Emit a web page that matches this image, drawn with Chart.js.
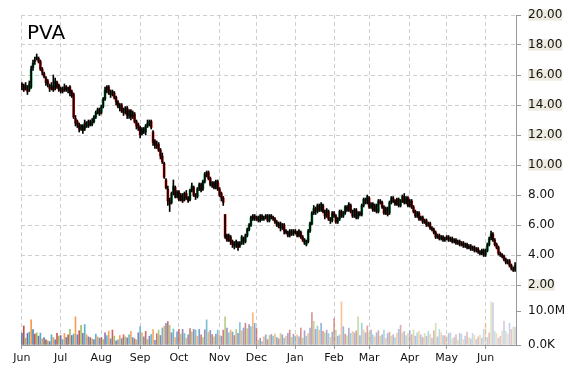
<!DOCTYPE html>
<html>
<head>
<meta charset="utf-8">
<script src="https://cdn.jsdelivr.net/npm/chart.js@4.4.1/dist/chart.umd.min.js"></script>
<style>
html, body { margin: 0; padding: 0; background: #fff; }
#wrap { position: relative; width: 570px; height: 370px; }
#title { position: absolute; left: 27px; top: 22px; font: 20px/20px "DejaVu Sans", sans-serif; color: #000; }
</style>
</head>
<body>
<div id="wrap">
  <canvas id="chart" width="570" height="370"></canvas>
  <div id="title">PVA</div>
</div>
<script>
// trading days per month, Jun .. Jun
var months = ['Jun', 'Jul', 'Aug', 'Sep', 'Oct', 'Nov', 'Dec', 'Jan', 'Feb', 'Mar', 'Apr', 'May', 'Jun'];
var daysPerMonth = [21, 22, 21, 21, 22, 20, 21, 21, 19, 22, 20, 21, 17];

var priceTicks = [2, 4, 6, 8, 10, 12, 14, 16, 18, 20];
var volumeTicks = [0, 10000000];

var opens = [
  15.4,15.3,15.1,15.2,15.0,15.2,16.5,16.9,17.1,17.1,
  16.9,16.4,16.1,15.8,15.6,15.3,15.2,15.2,15.1,15.5,
  15.3,15.0,15.1,15.0,15.2,15.0,15.2,14.9,14.7,13.1,
  12.9,12.7,12.4,12.6,12.4,12.8,12.6,12.9,12.7,12.9,
  13.2,13.5,13.7,13.5,13.9,14.4,15.0,15.2,14.9,14.7,
  14.8,14.5,14.2,13.8,14.0,13.7,13.5,13.8,13.3,13.6,
  13.2,13.4,12.9,12.7,12.5,12.1,12.4,12.2,12.6,12.7,
  12.9,12.2,11.6,11.2,11.4,11.0,10.6,10.1,9.0,8.4,
  7.7,7.5,8.1,8.5,7.9,8.2,7.7,8.0,7.7,8.1,
  7.8,7.7,8.3,8.5,8.0,7.9,8.4,8.7,8.4,8.9,
  9.3,9.5,9.1,8.6,8.8,8.5,8.9,8.4,8.1,7.8,
  6.7,5.3,5.0,5.2,4.9,4.8,4.6,4.8,4.6,4.8,
  5.1,4.9,5.3,5.7,6.0,6.4,6.6,6.4,6.5,6.3,
  6.6,6.4,6.5,6.6,6.3,6.6,6.5,6.4,6.2,5.9,
  6.1,5.8,6.0,5.6,5.5,5.3,5.6,5.4,5.6,5.5,
  5.3,5.5,5.2,5.0,4.7,4.9,5.6,6.1,6.8,7.1,
  6.9,7.3,7.0,7.3,6.9,6.6,6.9,6.4,6.3,6.8,
  6.6,6.2,6.4,6.9,6.6,6.8,7.2,7.0,7.3,6.9,
  6.6,7.0,6.5,6.8,6.7,7.3,7.7,7.5,7.8,7.2,
  7.4,7.0,7.3,6.9,7.6,7.5,7.2,6.8,7.1,6.8,
  7.5,7.8,7.6,7.4,7.7,7.3,7.6,7.9,7.5,7.8,
  7.3,7.6,7.2,6.9,6.6,6.8,6.4,6.5,6.2,6.3,
  6.0,6.1,5.8,5.7,5.5,5.2,5.3,5.1,5.2,5.0,
  5.1,5.2,5.0,5.1,4.9,5.0,4.8,4.9,4.7,4.8,
  4.6,4.7,4.5,4.6,4.4,4.5,4.3,4.4,4.2,4.1,
  4.3,4.0,4.3,4.7,5.1,5.4,5.0,4.7,4.5,4.1,
  4.0,3.9,3.7,3.5,3.6,3.3,3.1,3.0
];
var highs = [
  15.5,15.4,15.5,15.3,15.6,16.6,17.0,17.2,17.4,17.2,
  17.0,16.5,16.2,15.9,15.7,15.4,15.5,16.0,15.8,15.6,
  15.4,15.2,15.2,15.4,15.3,15.2,15.3,15.0,14.8,13.3,
  13.0,12.8,12.7,12.7,13.0,12.9,13.0,13.0,13.1,13.3,
  13.6,13.8,13.8,14.0,14.5,15.2,15.3,15.3,15.0,15.0,
  14.9,14.6,14.3,14.1,14.1,13.8,13.9,13.9,13.7,13.7,
  13.6,13.5,13.0,12.8,12.6,12.5,12.5,12.7,13.0,13.0,
  13.0,12.3,11.7,11.6,11.5,11.1,10.8,10.2,9.1,8.6,
  7.8,8.2,9.0,8.6,8.3,8.3,8.1,8.1,8.2,8.3,
  7.9,8.4,8.8,8.6,8.1,8.5,8.8,8.8,9.0,9.5,
  9.6,9.6,9.2,8.9,8.9,9.0,9.0,8.5,8.2,7.9,
  6.7,5.4,5.4,5.3,5.0,4.9,5.0,4.9,4.9,5.3,
  5.2,5.4,5.8,6.1,6.6,6.7,6.7,6.6,6.6,6.7,
  6.7,6.6,6.7,6.7,6.7,6.7,6.6,6.5,6.3,6.2,
  6.2,6.1,6.1,5.7,5.6,5.7,5.7,5.7,5.7,5.6,
  5.7,5.6,5.3,5.1,5.0,5.7,6.2,6.9,7.3,7.2,
  7.4,7.4,7.5,7.4,7.0,7.1,7.0,6.5,6.9,6.9,
  6.7,6.5,7.0,7.0,6.9,7.3,7.3,7.5,7.4,7.0,
  7.1,7.1,6.9,6.9,7.4,7.8,7.8,8.0,7.9,7.5,
  7.5,7.4,7.4,7.7,7.7,7.6,7.3,7.2,7.2,7.6,
  7.9,7.9,7.7,7.8,7.8,7.7,8.0,8.1,7.9,7.9,
  7.7,7.7,7.3,7.0,6.9,6.9,6.6,6.6,6.4,6.4,
  6.2,6.2,5.9,5.8,5.6,5.4,5.4,5.3,5.3,5.2,
  5.3,5.3,5.2,5.2,5.1,5.1,5.0,5.0,4.9,4.9,
  4.8,4.8,4.7,4.7,4.6,4.6,4.5,4.5,4.3,4.4,
  4.4,4.4,4.8,5.2,5.6,5.5,5.1,4.8,4.6,4.2,
  4.1,4.0,3.8,3.7,3.7,3.4,3.2,3.5
];
var lows = [
  15.0,14.9,15.0,14.7,14.9,15.1,16.3,16.7,17.0,16.8,
  16.3,16.0,15.8,15.3,15.2,14.9,15.0,14.9,15.0,15.1,
  14.9,14.8,14.8,14.9,14.9,14.8,14.6,14.5,13.1,12.6,
  12.5,12.2,12.3,12.1,12.3,12.5,12.5,12.6,12.6,12.8,
  13.1,13.4,13.3,13.4,13.8,14.3,14.8,14.7,14.5,14.6,
  14.4,14.0,13.8,13.6,13.5,13.3,13.4,13.1,13.1,13.0,
  13.1,12.8,12.4,12.3,11.8,12.0,12.1,12.0,12.5,12.6,
  12.4,11.3,11.1,11.1,10.9,10.4,10.1,9.1,8.4,7.3,
  6.9,7.4,8.0,7.8,7.8,7.6,7.6,7.5,7.6,7.7,
  7.5,7.6,8.2,7.9,7.7,7.8,8.3,8.2,8.3,8.8,
  9.2,9.0,8.6,8.5,8.4,8.4,8.3,7.9,7.6,7.3,
  5.1,4.9,4.9,4.7,4.5,4.4,4.5,4.3,4.5,4.7,
  4.7,4.8,5.2,5.6,5.9,6.3,6.3,6.3,6.2,6.2,
  6.3,6.3,6.4,6.2,6.2,6.4,6.3,6.1,5.9,5.8,
  5.6,5.7,5.4,5.4,5.2,5.2,5.3,5.3,5.4,5.2,
  5.2,5.1,4.9,4.7,4.6,4.8,5.5,6.0,6.7,6.7,
  6.8,6.9,6.9,6.8,6.4,6.5,6.3,6.1,6.2,6.5,
  6.1,6.1,6.3,6.5,6.5,6.7,6.9,6.9,6.8,6.5,
  6.5,6.4,6.4,6.6,6.6,7.2,7.4,7.4,7.1,7.1,
  6.9,6.9,6.8,6.8,7.4,7.1,6.7,6.7,6.6,6.7,
  7.4,7.5,7.3,7.3,7.2,7.2,7.5,7.4,7.4,7.2,
  7.2,7.1,6.8,6.5,6.5,6.3,6.3,6.1,6.1,5.9,
  5.9,5.7,5.6,5.4,5.1,5.1,5.0,5.0,4.9,4.9,
  5.0,4.9,4.9,4.8,4.8,4.7,4.7,4.6,4.6,4.5,
  4.5,4.4,4.4,4.3,4.3,4.2,4.2,4.1,4.0,4.0,
  3.9,3.9,4.2,4.6,5.0,4.9,4.6,4.4,4.0,3.9,
  3.8,3.6,3.4,3.4,3.2,3.0,2.9,2.9
];
var closes = [
  15.2,15.0,15.3,14.9,15.4,16.4,16.8,17.0,17.2,16.9,
  16.4,16.2,15.9,15.5,15.4,15.1,15.3,15.0,15.6,15.2,
  15.0,15.1,14.9,15.2,15.0,15.1,14.8,14.6,13.2,12.8,
  12.7,12.4,12.6,12.3,12.8,12.6,12.9,12.7,12.9,13.2,
  13.5,13.7,13.4,13.9,14.4,15.0,15.2,14.9,14.7,14.9,
  14.5,14.2,13.9,14.0,13.6,13.5,13.8,13.3,13.6,13.2,
  13.5,12.9,12.6,12.5,12.0,12.4,12.2,12.6,12.8,12.9,
  12.5,11.5,11.3,11.4,11.0,10.6,10.2,9.2,8.5,7.6,
  7.4,8.1,8.6,7.9,8.2,7.7,8.0,7.6,8.1,7.8,
  7.6,8.3,8.6,8.0,7.9,8.4,8.7,8.3,8.9,9.4,
  9.5,9.1,8.7,8.8,8.5,8.9,8.4,8.0,7.8,7.5,
  5.2,5.0,5.3,4.9,4.7,4.6,4.9,4.5,4.8,5.2,
  4.9,5.3,5.7,6.0,6.5,6.6,6.4,6.5,6.3,6.6,
  6.4,6.5,6.6,6.3,6.6,6.5,6.4,6.2,6.0,6.1,
  5.8,6.0,5.6,5.5,5.3,5.6,5.4,5.6,5.5,5.3,
  5.6,5.2,5.0,4.8,4.9,5.6,6.1,6.8,7.1,6.9,
  7.3,7.0,7.4,6.9,6.6,7.0,6.4,6.3,6.8,6.6,
  6.2,6.4,6.9,6.6,6.8,7.2,7.0,7.4,6.9,6.6,
  7.0,6.5,6.8,6.7,7.3,7.7,7.5,7.9,7.2,7.4,
  7.0,7.3,6.9,7.6,7.5,7.2,6.8,7.1,6.7,7.5,
  7.8,7.6,7.4,7.7,7.3,7.6,7.9,7.5,7.8,7.3,
  7.6,7.2,6.9,6.6,6.8,6.4,6.5,6.2,6.3,6.0,
  6.1,5.8,5.7,5.5,5.2,5.3,5.1,5.2,5.0,5.1,
  5.2,5.0,5.1,4.9,5.0,4.8,4.9,4.7,4.8,4.6,
  4.7,4.5,4.6,4.4,4.5,4.3,4.4,4.2,4.1,4.3,
  4.0,4.3,4.7,5.1,5.4,5.0,4.7,4.5,4.1,4.0,
  3.9,3.7,3.5,3.6,3.3,3.1,3.0,3.3
];
// volume in millions of shares
var volumes = [
  3.5,5.6,2.0,3.4,3.8,7.4,4.5,3.2,3.6,2.6,3.5,1.8,2.2,1.5,1.2,1.0,3.0,2.2,1.5,3.4,2.6,
  2.8,1.6,3.4,2.2,3.0,4.6,2.8,3.2,8.3,3.0,4.2,5.8,3.4,6.0,3.0,2.4,2.2,1.8,1.6,3.2,2.4,2.0,
  2.2,1.6,3.6,2.8,4.1,1.8,4.4,2.6,1.2,1.5,2.8,1.9,3.0,2.4,2.1,3.0,4.0,2.2,1.8,1.5,3.6,
  5.4,3.6,2.4,4.0,1.6,2.6,3.1,4.5,1.4,3.3,4.4,2.8,5.0,5.6,6.4,6.9,5.8,3.6,4.7,2.2,3.9,
  4.6,3.2,4.6,3.4,2.0,3.0,4.8,3.9,4.6,4.4,2.6,4.6,3.0,2.2,4.5,7.4,3.8,4.3,3.1,2.4,3.2,4.4,
  3.0,2.6,4.4,8.3,5.0,3.6,4.4,3.8,2.8,4.6,3.4,6.6,4.2,5.0,6.4,4.8,6.0,5.4,9.5,6.4,
  5.0,1.4,2.0,1.0,2.4,3.0,1.6,2.8,3.1,2.6,3.2,2.2,1.8,3.4,3.0,2.0,2.6,3.4,4.4,2.2,3.2,
  2.6,3.0,2.4,5.0,2.0,4.2,2.6,3.4,5.0,9.5,7.0,4.6,5.6,4.4,6.4,4.0,3.6,4.4,3.4,2.2,3.8,
  7.8,4.4,2.6,3.0,12.7,5.4,3.2,2.8,5.0,3.4,4.0,3.6,4.2,8.3,2.8,6.4,4.4,3.6,5.6,
  3.6,4.4,3.0,2.4,3.6,4.2,2.6,3.0,4.4,2.0,3.4,3.8,2.6,3.0,2.2,3.4,4.6,5.8,3.6,4.0,2.8,3.4,
  4.2,3.0,4.4,2.6,3.6,4.0,3.0,2.2,3.4,2.6,4.0,3.2,2.0,4.2,6.4,2.4,4.6,3.6,2.8,2.8,
  2.4,3.4,3.6,1.8,2.2,3.0,1.4,3.4,3.2,1.6,2.6,3.8,2.2,1.8,3.4,2.8,1.6,2.4,3.0,2.0,4.6,
  6.4,2.2,3.6,12.7,12.4,4.0,3.4,2.0,2.6,4.2,7.0,4.0,3.2,6.4,4.6,5.4,5.2
];

var labels = [];
var monthLabel = {};
months.forEach(function(m, mi) {
  monthLabel[labels.length] = m;
  for (var d = 1; d <= daysPerMonth[mi]; d++) labels.push(m + ' ' + d);
});

var upColor = '#00a84f', downColor = '#ff0000';
var volPalette = [[79,129,189], [192,80,77], [155,187,89], [128,100,162], [75,172,198], [247,150,70]];
var volColors = volumes.map(function(v, i) {
  var c = volPalette[i % volPalette.length];
  var a = 1 - 0.68 * i / (volumes.length - 1);
  return 'rgba(' + c[0] + ',' + c[1] + ',' + c[2] + ',' + a.toFixed(2) + ')';
});

var gridColor = '#cfcfcf', axisColor = '#999';
var tickFont = { family: 'DejaVu Sans', size: 12, lineHeight: 0.95 };

new Chart(document.getElementById('chart').getContext('2d'), {
  type: 'bar',
  data: {
    labels: labels,
    datasets: [
      {
        label: 'wick',
        data: lows.map(function(l, i) { return [l, highs[i]]; }),
        backgroundColor: '#000',
        barThickness: 1,
        grouped: false,
        yAxisID: 'y',
        order: 1
      },
      {
        label: 'body',
        data: opens.map(function(o, i) { return [o, closes[i]]; }),
        backgroundColor: opens.map(function(o, i) { return closes[i] >= o ? upColor : downColor; }),
        barThickness: 2,
        grouped: false,
        yAxisID: 'y',
        order: 2
      },
      {
        label: 'volume',
        data: volumes.map(function(v) { return v * 1000000; }),
        backgroundColor: volColors,
        barThickness: 1,
        grouped: false,
        yAxisID: 'yv',
        order: 3
      }
    ]
  },
  options: {
    responsive: false,
    animation: false,
    layout: { padding: { left: 21, right: 0, top: 15, bottom: 0 } },
    plugins: { legend: { display: false }, tooltip: { enabled: false } },
    scales: {
      x: {
        offset: true,
        afterFit: function(s) { s.height = 25; },
        grid: {
          offset: false,
          color: function(c) { return monthLabel[c.index] ? gridColor : 'rgba(0,0,0,0)'; },
          tickColor: function(c) { return monthLabel[c.index] ? axisColor : 'rgba(0,0,0,0)'; },
          tickLength: 4
        },
        border: { display: true, color: axisColor, dash: [4, 3] },
        ticks: {
          autoSkip: false, maxRotation: 0, padding: 3, color: '#111',
          font: { family: 'DejaVu Sans', size: 11 },
          callback: function(v, i) { return monthLabel[i] || ''; }
        }
      },
      y: {
        position: 'right', stack: 'right', stackWeight: 284,
        min: 20 - 284 / 15, max: 20,
        afterFit: function(s) { s.width = 54; },
        afterBuildTicks: function(s) { s.ticks = priceTicks.map(function(v) { return { value: v }; }); },
        grid: { color: gridColor, tickColor: axisColor, tickLength: 5 },
        border: { color: axisColor, dash: [4, 3] },
        ticks: {
          padding: 7, color: '#111', font: tickFont,
          showLabelBackdrop: true,
          backdropPadding: 0,
          backdropColor: function(c) { var v = c.tick.value; return (v >= 10 || v === 2) ? '#eeebe0' : 'rgba(0,0,0,0)'; },
          callback: function(v) { return v.toFixed(2); }
        }
      },
      yv: {
        position: 'right', stack: 'right', stackWeight: 46,
        min: 0, max: 10000000 * 46 / 34,
        afterFit: function(s) { s.width = 54; },
        afterBuildTicks: function(s) { s.ticks = volumeTicks.map(function(v) { return { value: v }; }); },
        grid: { drawOnChartArea: false, tickColor: axisColor, tickLength: 5 },
        border: { color: axisColor },
        ticks: {
          padding: 7, color: '#111', font: tickFont,
          callback: function(v) { return v === 0 ? '0.0K' : (v / 1000000).toFixed(1) + 'M'; }
        }
      }
    }
  }
});
</script>
</body>
</html>
